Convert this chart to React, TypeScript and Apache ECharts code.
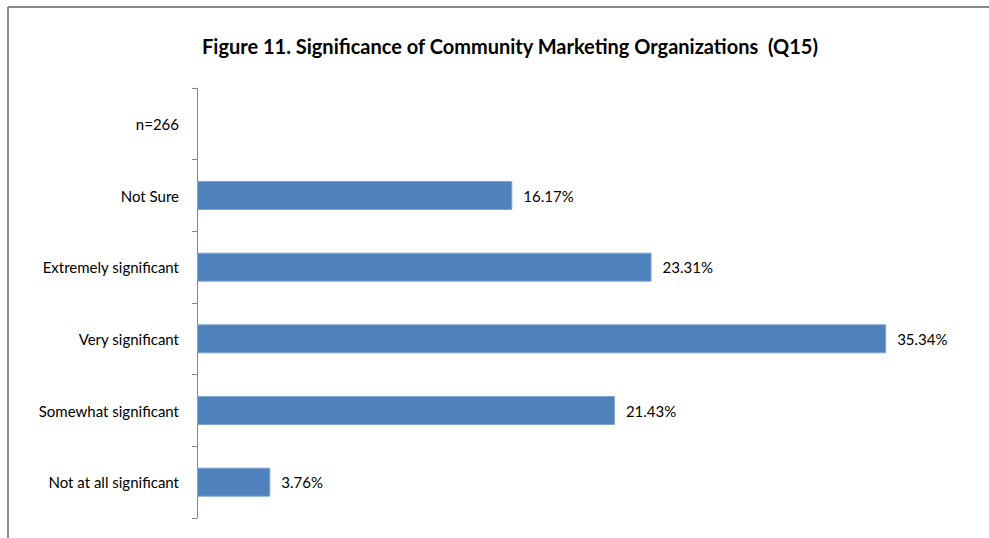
import React, { useEffect, useRef } from "react";
import * as echarts from "echarts";

const categories = [
  "Not at all significant",
  "Somewhat significant",
  "Very significant",
  "Extremely significant",
  "Not Sure",
  "n=266",
];
const shares = [3.76, 21.43, 35.34, 23.31, 16.17, null];
const titleText = "Figure 11. Significance of Community Marketing Organizations  (Q15)";

const FONT = "Lato, 'Open Sans', sans-serif";

export default function App() {
  const ref = useRef<HTMLDivElement>(null);

  useEffect(() => {
    if (!ref.current) return;
    const chart = echarts.init(ref.current, null, { renderer: "svg" });
    chart.setOption({
      animation: false,
      backgroundColor: "#ffffff",
      title: {
        text: titleText,
        left: 505,
        top: 31,
        textAlign: "center",
        textStyle: { fontFamily: FONT, fontWeight: "bold", fontSize: 20, color: "#000" },
      },
      graphic: [
        {
          type: "line",
          shape: { x1: 8, y1: 7, x2: 989, y2: 7 },
          style: { stroke: "#8a8a8a", lineWidth: 2 },
        },
        {
          type: "line",
          shape: { x1: 8, y1: 7, x2: 8, y2: 538 },
          style: { stroke: "#8a8a8a", lineWidth: 2 },
        },
      ],
      grid: { left: 197, top: 88, right: 12, bottom: 20, containLabel: false },
      xAxis: {
        type: "value",
        min: 0,
        max: 40,
        show: false,
      },
      yAxis: {
        type: "category",
        data: categories,
        boundaryGap: true,
        axisLine: { show: true, lineStyle: { color: "#868686", width: 1 } },
        axisTick: { show: true, length: 5, lineStyle: { color: "#868686" } },
        axisLabel: { margin: 18, fontSize: 15, color: "#000", fontFamily: FONT },
        splitLine: { show: false },
      },
      series: [
        {
          type: "bar",
          data: shares,
          barWidth: 29,
          itemStyle: { color: "#4F81BD", borderColor: "#7ea3d0", borderWidth: 1 },
          label: {
            show: true,
            position: "right",
            distance: 11,
            formatter: (p: any) => (p.value == null ? "" : `${p.value.toFixed(2)}%`),
            fontSize: 15,
            color: "#000",
            fontFamily: FONT,
          },
        },
      ],
    });
    return () => chart.dispose();
  }, []);

  return (
    <div
      ref={ref}
      style={{ position: "absolute", left: 0, top: 0, width: 989, height: 538, background: "#fff" }}
    />
  );
}
